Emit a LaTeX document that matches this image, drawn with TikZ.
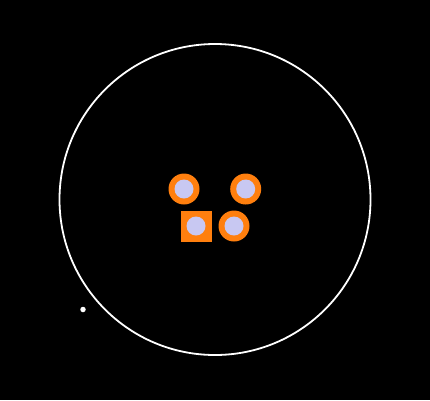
\documentclass[tikz,border=0pt]{standalone}
\definecolor{ringorange}{HTML}{FF7F0E}
\definecolor{lav}{HTML}{C8C8F2}
\begin{document}
\begin{tikzpicture}[x=1pt,y=-1pt,
  ring/.style={circle,fill=ringorange,minimum size=31pt,inner sep=0pt},
  sq/.style={rectangle,fill=ringorange,minimum size=31pt,inner sep=0pt},
  core/.style={circle,fill=lav,minimum size=19pt,inner sep=0pt},
  bigring/.style={circle,draw=white,line width=1.8pt,minimum size=311pt,inner sep=0pt},
  dot/.style={circle,fill=white,minimum size=5.5pt,inner sep=0pt}]
\fill[black] (0,0) rectangle (430,400);
\useasboundingbox (0,0) rectangle (430,400);
\node[bigring] (outer) at (215,199.5) {};
\node[ring] (r1) at (184,189) {};
\node[core] (c1) at (r1) {};
\node[ring] (r2) at (245.7,189) {};
\node[core] (c2) at (r2) {};
\node[sq] (s3) at (196,226) {};
\node[core] (c3) at (s3) {};
\node[ring] (r4) at (234,226) {};
\node[core] (c4) at (r4) {};
\node[dot] (d) at (83,309.5) {};
\end{tikzpicture}
\end{document}
